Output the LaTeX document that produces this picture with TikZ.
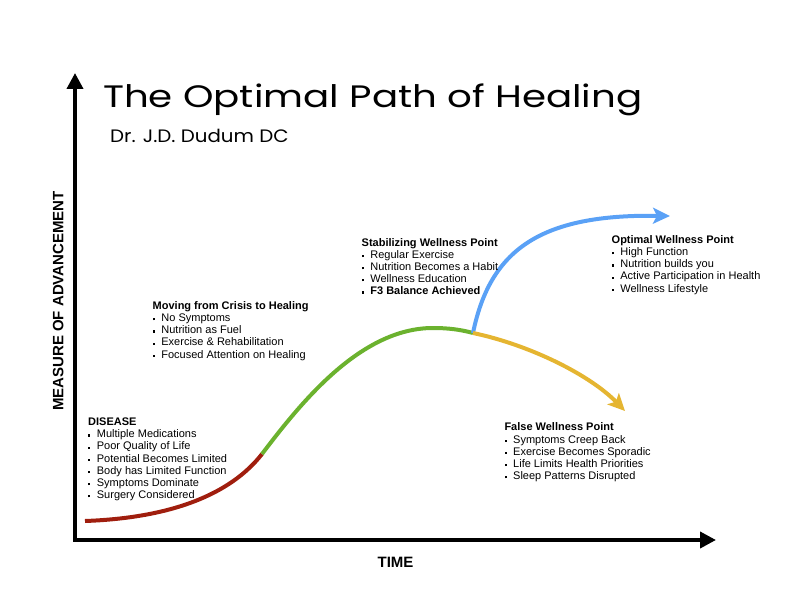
\documentclass[tikz,border=0pt]{standalone}
\usepackage{fontspec}
\setmainfont{Liberation Sans}
\newfontfamily\titlefont[FakeStretch=1.25]{Poppins}
\newfontfamily\subtitlefont[FakeStretch=1.1]{Poppins}
\usetikzlibrary{arrows.meta}
\begin{document}
\begin{tikzpicture}[x=1pt, y=-1pt]
            \useasboundingbox (0,0) rectangle (792,612);
            \definecolor{Dcolor}{RGB}{160, 30, 14}
            \definecolor{Hcolor}{RGB}{107, 178, 46}
            \definecolor{Ocolor}{RGB}{90, 161, 246}
            \definecolor{Fcolor}{RGB}{229, 181, 49}
            \def\axiswidth{3.8pt}
            \def\curvewidth{4pt}
            \def\bul{\rule[1.2pt]{2.2pt}{2.2pt}\hspace{6.5pt}}
            \tikzset{blocktext/.style={anchor=north west, inner sep=0pt, align=left, font=\fontsize{11}{12.15}\selectfont},
                     axistext/.style={anchor=base, inner sep=0pt, font=\bfseries\fontsize{15}{15}\selectfont},
                     curvetip/.style={-{Stealth[length=17pt, width=16pt, inset=4pt]}}}
            \coordinate (origin) at (75,540);
            \coordinate (ytip) at (75,73);
            \coordinate (xtip) at (716,540);
            \draw[line width=\axiswidth, {Triangle[length=16pt, width=16pt]}-{Triangle[length=16pt, width=16pt]}] (ytip) -- (origin) -- (xtip);
            \node[axistext, rotate=90] (ylabel) at (63.3, 301) {MEASURE OF ADVANCEMENT};
            \node[axistext] (xlabel) at (395.5, 567) {TIME};
            \node[anchor=base west, inner sep=0pt, font=\titlefont\fontsize{31}{31}\selectfont] (title) at (103, 108) {The Optimal Path of Healing};
            \node[anchor=base west, inner sep=0pt, font=\subtitlefont\fontsize{18}{18}\selectfont] (subtitle) at (110, 142.7) {Dr. J.D. Dudum DC};
            \coordinate (D0) at (85,521);
            \coordinate (D1) at (262,454);
            \coordinate (peak) at (433,328);
            \coordinate (split) at (473,333);
            \coordinate (Otip) at (670,216);
            \coordinate (Ftip) at (625,411);
            \draw[Dcolor, line width=\curvewidth] (D0) .. controls (170,518) and (230,495) .. (D1);
            \draw[Hcolor, line width=\curvewidth] (D1) .. controls (300,404) and (360,328) .. (peak) .. controls (450,328) and (462,330) .. (split);
            \draw[Ocolor, line width=\curvewidth, curvetip] (split) .. controls (490,250) and (540,214) .. (Otip);
            \draw[Fcolor, line width=\curvewidth, curvetip] (split) .. controls (530,345) and (590,375) .. (Ftip);
            \node[blocktext] (disease) at (88, 417.8) {\textbf{DISEASE}\\ \bul Multiple Medications\\ \bul Poor Quality of Life\\ \bul Potential Becomes Limited\\ \bul Body has Limited Function\\ \bul Symptoms Dominate\\ \bul Surgery Considered};
            \node[blocktext] (crisis) at (152.5, 301.3) {\textbf{Moving from Crisis to Healing}\\ \bul No Symptoms\\ \bul Nutrition as Fuel\\ \bul Exercise \& Rehabilitation\\ \bul Focused Attention on Healing};
            \node[blocktext] (stable) at (361.5, 238) {\textbf{Stabilizing Wellness Point}\\ \bul Regular Exercise\\ \bul Nutrition Becomes a Habit\\ \bul Wellness Education\\ \bul \textbf{F3 Balance Achieved}};
            \node[blocktext] (optimal) at (611.5, 235.3) {\textbf{Optimal Wellness Point}\\ \bul High Function\\ \bul Nutrition builds you\\ \bul Active Participation in Health\\ \bul Wellness Lifestyle};
            \node[blocktext] (false) at (504.3, 422.7) {\textbf{False Wellness Point}\\ \bul Symptoms Creep Back\\ \bul Exercise Becomes Sporadic\\ \bul Life Limits Health Priorities\\ \bul Sleep Patterns Disrupted};
        \end{tikzpicture}
\end{document}
